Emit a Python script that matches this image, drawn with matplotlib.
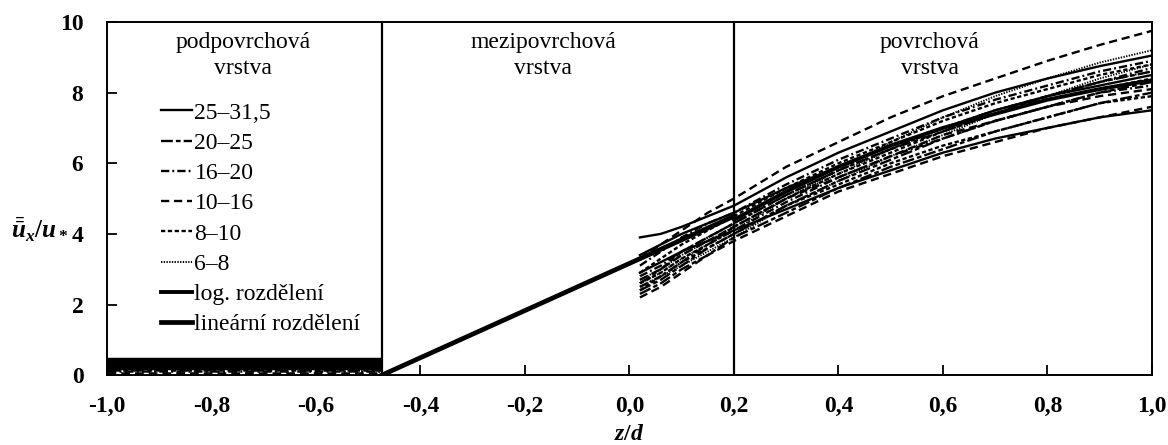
import matplotlib
matplotlib.use("Agg")
import matplotlib.pyplot as plt

plt.rcParams["font.family"] = ["Liberation Serif", "DejaVu Serif"]
plt.rcParams["mathtext.fontset"] = "custom"
plt.rcParams["mathtext.it"] = "Liberation Serif:italic:bold"
plt.rcParams["mathtext.rm"] = "Liberation Serif:bold"

# hranice vrstev
z_lin0 = -0.474
z_top = 0.2

# body profilu v povrchove vrstve
z_meas = [0.02, 0.06, 0.10, 0.15, 0.20, 0.30, 0.40, 0.50, 0.60, 0.70, 0.80, 0.90, 1.00]

u_25_31 = [
    [3.9, 4.0, 4.2, 4.5, 4.8, 5.6, 6.3, 6.9, 7.5, 8.0, 8.4, 8.75, 9.05],
    [3.4, 3.7, 4.0, 4.3, 4.6, 5.3, 5.9, 6.5, 7.0, 7.5, 7.9, 8.2, 8.5],
    [2.9, 3.2, 3.5, 3.8, 4.1, 4.7, 5.3, 5.8, 6.3, 6.7, 7.0, 7.3, 7.5],
]
u_20_25 = [
    [2.4, 2.7, 3.1, 3.6, 4.0, 4.8, 5.5, 6.1, 6.7, 7.2, 7.6, 8.0, 8.3],
    [2.6, 3.0, 3.5, 3.9, 4.3, 5.1, 5.8, 6.4, 6.9, 7.4, 7.9, 8.3, 8.6],
    [2.3, 2.6, 3.0, 3.4, 3.9, 4.6, 5.3, 5.9, 6.4, 6.9, 7.3, 7.7, 8.0],
]
u_16_20 = [
    [2.8, 3.1, 3.5, 3.9, 4.3, 5.1, 5.8, 6.4, 7.0, 7.5, 7.9, 8.3, 8.7],
    [2.5, 2.8, 3.2, 3.7, 4.1, 4.9, 5.6, 6.2, 6.7, 7.2, 7.6, 8.0, 8.2],
    [3.1, 3.5, 3.9, 4.3, 4.6, 5.4, 6.1, 6.7, 7.3, 7.8, 8.2, 8.6, 8.9],
]
u_10_16 = [
    [3.3, 3.7, 4.1, 4.6, 5.0, 5.9, 6.6, 7.3, 7.9, 8.4, 8.9, 9.35, 9.75],
    [2.7, 3.0, 3.4, 3.8, 4.2, 5.0, 5.6, 6.2, 6.8, 7.2, 7.6, 7.9, 8.1],
    [2.2, 2.5, 2.9, 3.4, 3.8, 4.5, 5.2, 5.7, 6.2, 6.6, 7.0, 7.3, 7.6],
]
u_8_10 = [
    [2.9, 3.3, 3.7, 4.1, 4.5, 5.3, 6.0, 6.6, 7.2, 7.7, 8.1, 8.5, 8.8],
    [2.6, 2.9, 3.3, 3.7, 4.2, 5.0, 5.7, 6.3, 6.9, 7.4, 7.8, 8.1, 8.4],
    [2.4, 2.8, 3.2, 3.6, 4.0, 4.8, 5.4, 6.0, 6.5, 6.9, 7.3, 7.7, 7.9],
]
u_6_8 = [
    [2.5, 2.8, 3.1, 3.5, 3.9, 4.8, 5.5, 6.2, 6.8, 7.4, 7.9, 8.4, 8.8],
    [2.6, 2.9, 3.3, 3.7, 4.1, 5.0, 5.8, 6.6, 7.3, 7.9, 8.4, 8.85, 9.2],
    [2.7, 3.0, 3.4, 3.8, 4.2, 5.0, 5.7, 6.4, 7.0, 7.5, 7.9, 8.3, 8.6],
]

# podpovrchova vrstva
z_sub = [-1.0, z_lin0]
u_sub_thick = [0.42, 0.36, 0.30, 0.25, 0.21]
u_sub_thin = [0.15, 0.11, 0.07]

# log. a linearni rozdeleni
z_log = [0.2, 0.3, 0.4, 0.5, 0.6, 0.7, 0.8, 0.9, 1.0]
u_log = [4.4, 5.2, 5.9, 6.5, 7.0, 7.4, 7.8, 8.1, 8.35]
z_lin = [z_lin0, z_top]
u_lin = [0.0, 4.5]

classes = ["25–31,5", "20–25", "16–20", "10–16", "8–10", "6–8"]
series = [u_25_31, u_20_25, u_16_20, u_10_16, u_8_10, u_6_8]
styles = [
    dict(ls="-", lw=1.7),
    dict(ls=(0, (5, 1.3, 2, 1.3)), lw=1.7),
    dict(ls=(0, (3.5, 1.3, 0.8, 1.3)), lw=1.7),
    dict(ls=(0, (3.5, 2)), lw=1.7),
    dict(ls=(0, (1.8, 1.1)), lw=1.7),
    dict(ls=(0, (0.7, 0.7)), lw=1.4),
]

xticks = [-1.0, -0.8, -0.6, -0.4, -0.2, 0.0, 0.2, 0.4, 0.6, 0.8, 1.0]
xlabels = ["-1,0", "-0,8", "-0,6", "-0,4", "-0,2", "0,0", "0,2", "0,4", "0,6", "0,8", "1,0"]
yticks = [0, 2, 4, 6, 8, 10]

fig = plt.figure(figsize=(11.68, 4.45), dpi=100)
ax = fig.add_axes([0.0916, 0.157, 0.8947, 0.7936])

for cls, data, st in zip(classes, series, styles):
    for i, u in enumerate(data):
        ax.plot(z_meas, u, color="black", label=cls if i == 0 else None, **st)

for u in u_sub_thick:
    ax.plot(z_sub, [u, u], color="black", lw=3.2, solid_capstyle="butt")
for u, st in zip(u_sub_thin, styles[1:4]):
    ax.plot(z_sub, [u, u], color="black", ls=st["ls"], lw=1.8)

ax.plot(z_log, u_log, color="black", lw=2.8, label="log. rozdělení")
ax.plot(z_lin, u_lin, color="black", lw=3.4, label="lineární rozdělení")

ax.axvline(z_lin0, color="black", lw=1.6)
ax.axvline(z_top, color="black", lw=1.6)

for zc, txt in [(-0.74, "podpovrchová\nvrstva"), (-0.165, "mezipovrchová\nvrstva"),
                (0.575, "povrchová\nvrstva")]:
    ax.text(zc, 9.72, txt, ha="center", va="top", fontsize=17, linespacing=1.3)

ax.set_xlim(-1.0, 1.0)
ax.set_ylim(0, 10)
ax.set_xticks(xticks)
ax.set_xticklabels(xlabels)
ax.set_yticks(yticks)
ax.tick_params(direction="in", length=7, width=1.3, labelsize=17)
ax.tick_params(axis="x", pad=15)
ax.tick_params(axis="y", pad=17)
for lab in ax.get_xticklabels() + ax.get_yticklabels():
    lab.set_fontweight("bold")
for sp in ax.spines.values():
    sp.set_linewidth(1.4)

ax.set_xlabel("$z/d$", fontsize=17, labelpad=5)
ax.set_ylabel(r"$\bar{\bar{u}}_x/u_*$", fontsize=18, rotation=0)
ax.yaxis.set_label_coords(-0.065, 0.37)

ax.legend(loc="upper left", bbox_to_anchor=(0.043, 0.80), frameon=False, fontsize=17,
          handlelength=1.3, handletextpad=0.1, labelspacing=0.37, borderaxespad=0)

fig.savefig("out.png", dpi=100)
